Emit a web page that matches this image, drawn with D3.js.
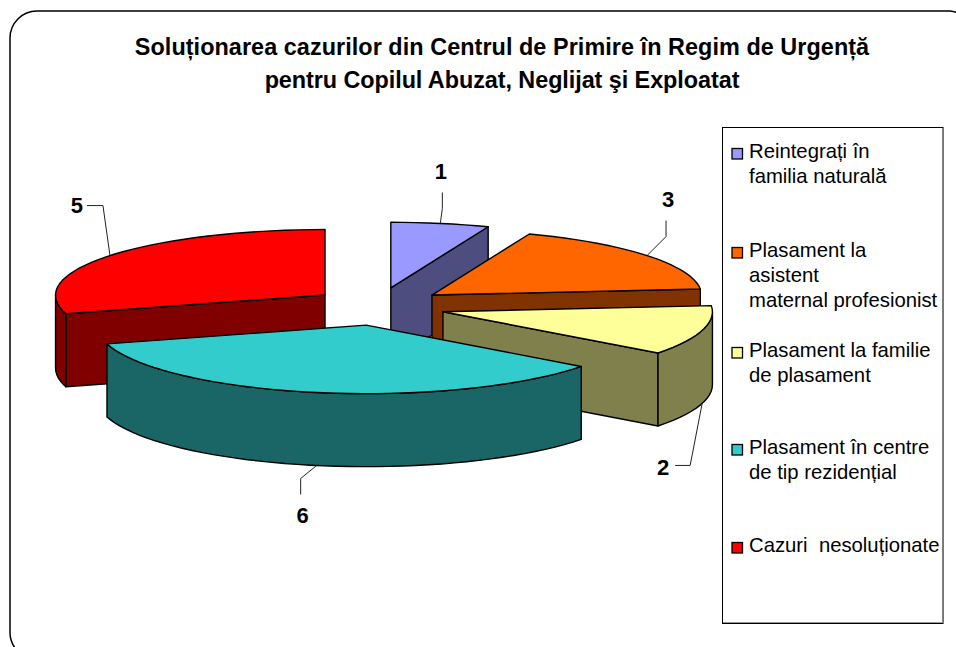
<!DOCTYPE html>
<html><head><meta charset="utf-8">
<script src="https://cdn.jsdelivr.net/npm/d3@7"></script>
<style>html,body{margin:0;padding:0;background:#fff;overflow:hidden}svg{display:block}text{font-family:"Liberation Sans",Arial,sans-serif;fill:#000}</style>
</head><body><svg id="c" width="956" height="647"></svg>
<script>
const values = [1, 3, 2, 6, 5];
const legendLines = [
  ["Reintegrați în", "familia naturală"],
  ["Plasament la", "asistent", "maternal profesionist"],
  ["Plasament la familie", "de plasament"],
  ["Plasament în centre", "de tip rezidențial"],
  ["Cazuri  nesoluționate"]
];
const topColors = ["#9999ff", "#ff6600", "#ffff99", "#33cccc", "#ff0000"];
const sideColors = ["#4d4d80", "#803300", "#80804d", "#1a6666", "#800000"];
const titleLines = ["Soluționarea cazurilor din Centrul de Primire în Regim de Urgență", "pentru Copilul Abuzat, Neglijat şi Exploatat"];

// layout
const cx = 378.5, cy = 306.5, rx = 269.5, ryBack = 65.5, ryFront = 68.5, depth = 73, explodeX = 67, explodeY = 19;
const legendBase = [158, 257, 357, 454, 552];
const titleSpacing = [0.06, -0.06];
// leader elbow and label offsets from the anchor point on the rim
const leaders = [
  {elbow:[2,-15], end:[2,-31], label:[0.5,-52]},
  {elbow:[19,-19], end:[19,-35], label:[21,-57]},
  {elbow:[-12,62], end:[-27,62], label:[-39,64]},
  {elbow:[-16,13], end:[-16,29], label:[-14,49]},
  {elbow:[-7,-50], end:[-23,-50], label:[-33,-51]}
];

const svg = d3.select("#c");
const pie = d3.pie().sort(null).value(d => d)(values);
const line = d3.line();
const rimY = a => { const c = Math.cos(a); return -(c > 0 ? ryBack : ryFront) * c; };
function arcPts(a0, a1, c, dy) {
  const n = Math.max(2, Math.ceil((a1 - a0) / 0.05));
  return d3.range(n + 1).map(i => {
    const a = a0 + (a1 - a0) * i / n;
    return [c[0] + rx * Math.sin(a), c[1] + rimY(a) + dy];
  });
}
const slices = pie.map((p, i) => {
  const mid = (p.startAngle + p.endAngle) / 2;
  return {i, a0: p.startAngle, a1: p.endAngle, mid,
          c: [cx + explodeX * Math.sin(mid), cy - explodeY * Math.cos(mid)]};
});
const g = svg.append("g");
function poly(pts, fill) {
  g.append("path").attr("d", line(pts) + "Z").attr("fill", fill)
    .attr("stroke", "#000").attr("stroke-width", 1.4).attr("stroke-linejoin", "round");
}
const order = slices.slice().sort((a, b) => d3.ascending(a.c[1], b.c[1]));
order.forEach(s => {
  const side = sideColors[s.i], top = topColors[s.i];
  const rim = a => [s.c[0] + rx * Math.sin(a), s.c[1] + rimY(a)];
  const wall = a => { const r = rim(a); return [s.c, r, [r[0], r[1] + depth], [s.c[0], s.c[1] + depth]]; };
  if (Math.sin(s.a1) > 0) poly(wall(s.a1), side);
  if (Math.sin(s.a0) < 0) poly(wall(s.a0), side);
  const v0 = Math.max(s.a0, Math.PI / 2), v1 = Math.min(s.a1, 3 * Math.PI / 2);
  if (v1 > v0) poly(arcPts(v0, v1, s.c, 0).concat(arcPts(v0, v1, s.c, depth).reverse()), side);
  poly([s.c].concat(arcPts(s.a0, s.a1, s.c, 0)), top);
});

// leaders and value labels
slices.forEach(s => {
  const L = leaders[s.i];
  const front = Math.cos(s.mid) < 0;
  const p = [s.c[0] + rx * Math.sin(s.mid), s.c[1] + rimY(s.mid) + (front ? depth : 0)];
  svg.append("path").attr("fill", "none").attr("stroke", "#222").attr("stroke-width", 1)
    .attr("d", line([p, [p[0] + L.elbow[0], p[1] + L.elbow[1]], [p[0] + L.end[0], p[1] + L.end[1]]]));
  svg.append("text").attr("x", p[0] + L.label[0]).attr("y", p[1] + L.label[1] + 8)
    .attr("text-anchor", "middle").attr("font-size", 22).attr("font-weight", "bold").text(values[s.i]);
});

// frame
svg.append("path").attr("fill", "none").attr("stroke", "#000").attr("stroke-width", 1.5)
  .attr("d", "M15,648 A27,27 0 0 1 10,633 L10,38 A27,27 0 0 1 37,11 L950,11 A27,27 0 0 1 960,14");

// title
titleLines.forEach((t, i) => svg.append("text").attr("x", 502).attr("y", 55 + i * 33)
  .attr("text-anchor", "middle").attr("font-size", 23.4).attr("font-weight", "bold")
  .attr("letter-spacing", titleSpacing[i]).text(t));

// legend
svg.append("rect").attr("x", 722.5).attr("y", 127.5).attr("width", 220.5).attr("height", 496)
  .attr("fill", "#fff").attr("stroke", "#000").attr("stroke-width", 1);
svg.append("path").attr("fill", "none").attr("stroke", "#777").attr("stroke-width", 1)
  .attr("d", "M943.5,127 V624");
svg.append("path").attr("fill", "none").attr("stroke", "#999").attr("stroke-width", 1)
  .attr("d", "M723,622.5 H943");
legendLines.forEach((ls, i) => {
  svg.append("rect").attr("x", 732).attr("y", legendBase[i] - 9.5).attr("width", 10.5).attr("height", 10.5)
    .attr("fill", topColors[i]).attr("stroke", "#000").attr("stroke-width", 1.3);
  ls.forEach((t, j) => svg.append("text").attr("x", 749).attr("y", legendBase[i] + j * 25)
    .attr("font-size", 20.3).style("white-space", "pre").text(t));
});
</script></body></html>
